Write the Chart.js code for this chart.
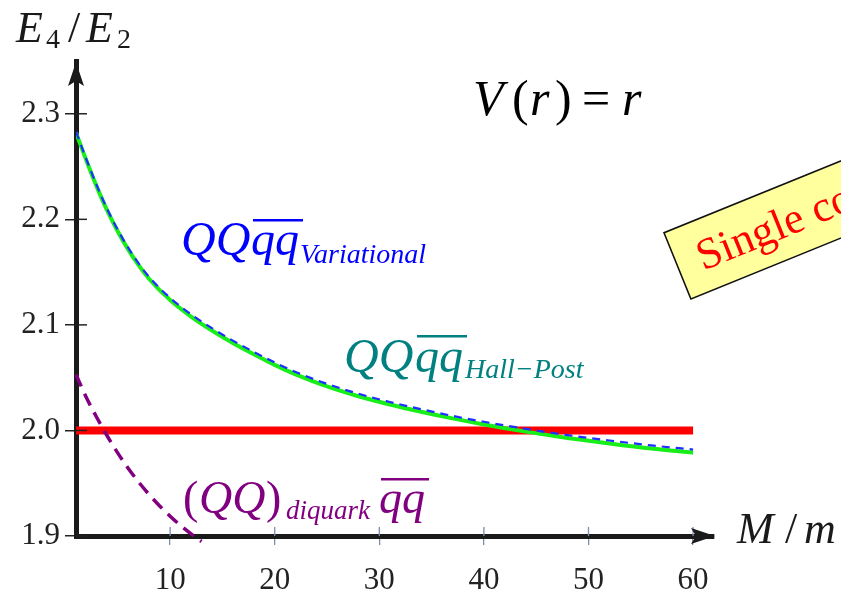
<!DOCTYPE html>
<html>
<head>
<meta charset="utf-8">
<script src="https://cdn.jsdelivr.net/npm/chart.js"></script>
<style>
  html, body { margin: 0; padding: 0; background: #fff; }
</style>
</head>
<body>
<canvas id="myChart" width="841" height="593"></canvas>
<script>
// M/m values for the two QQqq curves
const massRatio = [1, 2, 3, 4, 5, 6, 7, 8, 10, 12, 14, 16, 18, 20, 22, 25, 28, 31, 34, 37, 40, 44, 48, 52, 56, 60];
const hallPost = [2.282, 2.2555, 2.2305, 2.208, 2.1885, 2.1713, 2.1563, 2.1435, 2.1235, 2.1079, 2.0947, 2.0829, 2.0721, 2.0621, 2.0531, 2.0417, 2.0324, 2.0246, 2.0177, 2.0114, 2.0057, 1.9989, 1.9929, 1.9877, 1.9829, 1.9789];
const variational = [2.283, 2.2567, 2.2318, 2.2094, 2.190, 2.1729, 2.158, 2.1453, 2.1255, 2.110, 2.0969, 2.0851, 2.0744, 2.0644, 2.0554, 2.0441, 2.0348, 2.027, 2.0201, 2.0138, 2.0082, 2.0015, 1.9956, 1.9905, 1.9858, 1.9819];

// diquark picture
const diquarkMass = [1, 2, 3, 4, 5, 6, 7, 8, 9, 10, 11, 12, 13];
const diquark = [2.053, 2.031, 2.012, 1.9945, 1.9785, 1.964, 1.951, 1.9392, 1.9285, 1.9188, 1.910, 1.902, 1.8948];

// threshold 2 E_2
const thresholdMass = [1, 60];
const threshold = [2.0, 2.0];

const xTicks = [10, 20, 30, 40, 50, 60];
const yTicks = [1.9, 2.0, 2.1, 2.2, 2.3];

const pts = (xs, ys) => xs.map((x, i) => ({ x: x, y: ys[i] }));

const serif = '"Liberation Serif", "Times New Roman", serif';

// draws a row of text pieces, each at its own x, optional overline
function run(ctx, y, color, parts) {
  ctx.fillStyle = color;
  ctx.textBaseline = 'alphabetic';
  ctx.textAlign = 'left';
  parts.forEach(p => {
    ctx.font = p.f;
    const w = ctx.measureText(p.t).width;
    ctx.fillText(p.t, p.x, y + (p.dy || 0));
    if (p.bar) ctx.fillRect(p.x + 2, y - p.bar, w + 2, 2.5);
  });
}

const decorations = {
  id: 'decorations',
  afterDraw(chart) {
    const ctx = chart.ctx;
    const xs = chart.scales.x;
    const ys = chart.scales.y;
    const area = chart.chartArea;
    const x0 = area.left, y0 = area.bottom;
    ctx.save();

    // inner halves of tick marks
    ctx.strokeStyle = '#222';
    ctx.lineWidth = 1.5;
    yTicks.forEach(v => {
      const py = ys.getPixelForValue(v);
      ctx.beginPath(); ctx.moveTo(x0, py); ctx.lineTo(x0 + 11, py); ctx.stroke();
    });
    ctx.strokeStyle = '#7d8db0';
    ctx.lineWidth = 1.3;
    xTicks.forEach(v => {
      const px = xs.getPixelForValue(v);
      ctx.beginPath(); ctx.moveTo(px, y0 - 9); ctx.lineTo(px, y0); ctx.stroke();
    });

    // arrow heads
    ctx.fillStyle = '#1a1a1a';
    ctx.beginPath();
    ctx.moveTo(x0, area.top + 1);
    ctx.lineTo(x0 + 8, area.top + 25);
    ctx.lineTo(x0, area.top + 20);
    ctx.lineTo(x0 - 8, area.top + 25);
    ctx.closePath(); ctx.fill();
    ctx.beginPath();
    ctx.moveTo(area.right + 1, y0);
    ctx.lineTo(area.right - 23, y0 - 8);
    ctx.lineTo(area.right - 18, y0);
    ctx.lineTo(area.right - 23, y0 + 8);
    ctx.closePath(); ctx.fill();

    // axis titles
    run(ctx, 42, '#1a1a1a', [
      { t: 'E', f: 'italic 44px ' + serif, x: 16 },
      { t: '4', f: '28px ' + serif, x: 46, dy: 6 },
      { t: '/', f: '44px ' + serif, x: 68 },
      { t: 'E', f: 'italic 44px ' + serif, x: 86 },
      { t: '2', f: '28px ' + serif, x: 117, dy: 6 }
    ]);
    run(ctx, 543, '#1a1a1a', [
      { t: 'M', f: 'italic 44px ' + serif, x: 737 },
      { t: '/', f: '44px ' + serif, x: 785 },
      { t: 'm', f: 'italic 44px ' + serif, x: 804 }
    ]);

    // V(r) = r
    run(ctx, 115, '#000', [
      { t: 'V', f: 'italic 50px ' + serif, x: 473 },
      { t: '(', f: '50px ' + serif, x: 512 },
      { t: 'r', f: 'italic 50px ' + serif, x: 530 },
      { t: ')', f: '50px ' + serif, x: 555 },
      { t: '=', f: '50px ' + serif, x: 582 },
      { t: 'r', f: 'italic 50px ' + serif, x: 622 }
    ]);

    // curve labels
    run(ctx, 255, '#0000ff', [
      { t: 'QQ', f: 'italic 48px ' + serif, x: 181 },
      { t: 'qq', f: 'italic 48px ' + serif, x: 251, bar: 36 },
      { t: 'Variational', f: 'italic 28px ' + serif, x: 300, dy: 8 }
    ]);
    run(ctx, 372, '#008080', [
      { t: 'QQ', f: 'italic 48px ' + serif, x: 344 },
      { t: 'qq', f: 'italic 48px ' + serif, x: 415, bar: 37 },
      { t: 'Hall\u2212Post', f: 'italic 28px ' + serif, x: 465, dy: 6 }
    ]);
    run(ctx, 513, '#800080', [
      { t: '(', f: '46px ' + serif, x: 183 },
      { t: 'QQ', f: 'italic 46px ' + serif, x: 199 },
      { t: ')', f: '46px ' + serif, x: 266 },
      { t: 'diquark', f: 'italic 27px ' + serif, x: 286, dy: 6 },
      { t: 'qq', f: 'italic 46px ' + serif, x: 379, bar: 35 }
    ]);

    // tilted note box, runs off the right edge
    ctx.translate(664, 232.7);
    ctx.rotate(-22.1 * Math.PI / 180);
    ctx.fillStyle = '#ffff9e';
    ctx.strokeStyle = '#111';
    ctx.lineWidth = 1.6;
    ctx.fillRect(0, 0, 330, 71.5);
    ctx.strokeRect(0, 0, 330, 71.5);
    ctx.fillStyle = '#ff0000';
    ctx.font = '44px ' + serif;
    ctx.fillText('Single color', 22, 50);
    ctx.restore();
  }
};

new Chart(document.getElementById('myChart').getContext('2d'), {
  type: 'line',
  data: {
    datasets: [
      {
        label: 'Variational',
        data: pts(massRatio, variational),
        borderColor: '#1f2fff',
        borderWidth: 2.2,
        borderDash: [8, 6],
        pointRadius: 0,
        cubicInterpolationMode: 'monotone',
        fill: false
      },
      {
        label: 'Hall-Post',
        data: pts(massRatio, hallPost),
        borderColor: '#18ee18',
        borderWidth: 4,
        pointRadius: 0,
        cubicInterpolationMode: 'monotone',
        fill: false
      },
      {
        label: 'diquark',
        data: pts(diquarkMass, diquark),
        borderColor: '#800080',
        borderWidth: 3.5,
        borderDash: [13, 8],
        pointRadius: 0,
        cubicInterpolationMode: 'monotone',
        clip: false,
        fill: false
      },
      {
        label: 'threshold',
        data: pts(thresholdMass, threshold),
        borderColor: '#ff0000',
        borderWidth: 8,
        borderCapStyle: 'butt',
        pointRadius: 0,
        fill: false
      }
    ]
  },
  options: {
    responsive: false,
    animation: false,
    devicePixelRatio: 1,
    layout: { padding: { top: 61, right: 127, left: 0, bottom: 0 } },
    plugins: {
      legend: { display: false },
      tooltip: { enabled: false }
    },
    scales: {
      x: {
        type: 'linear',
        min: 1,
        max: 62,
        afterFit: s => { s.height = 57; },
        afterBuildTicks: s => { s.ticks = xTicks.map(v => ({ value: v })); },
        ticks: {
          autoSkip: false,
          maxRotation: 0,
          color: '#222',
          padding: 17,
          font: { family: serif, size: 31 }
        },
        grid: { drawOnChartArea: false, tickLength: 9, color: '#7d8db0', lineWidth: 1.3 },
        border: { color: '#1a1a1a', width: 5 }
      },
      y: {
        min: 1.9,
        max: 2.35,
        afterFit: s => { s.width = 76; },
        afterBuildTicks: s => { s.ticks = yTicks.map(v => ({ value: v })); },
        ticks: {
          color: '#222',
          padding: 5,
          callback: v => v.toFixed(1),
          font: { family: serif, size: 31 }
        },
        grid: { drawOnChartArea: false, tickLength: 11, color: '#222', lineWidth: 1.5 },
        border: { color: '#1a1a1a', width: 5 }
      }
    }
  },
  plugins: [decorations]
});
</script>
</body>
</html>
